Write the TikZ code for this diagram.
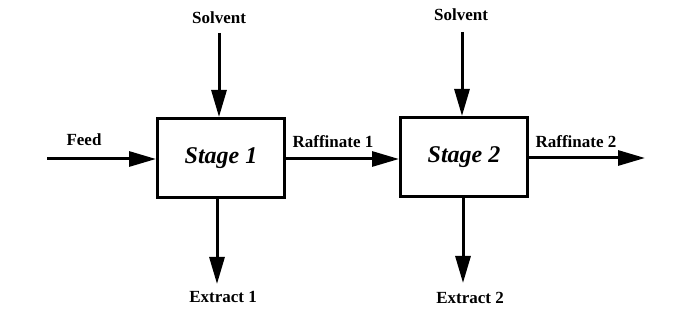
\documentclass[tikz,border=0pt]{standalone}
\usepackage{fontspec}
\setmainfont{Liberation Serif}
\usetikzlibrary{arrows.meta}
\begin{document}
\begin{tikzpicture}[x=1pt,y=-1pt,
  flow/.style={line width=3pt,-{Triangle[length=27pt,width=15pt]}},
  stagebox/.style={draw,line width=3pt,minimum width=127pt,minimum height=79pt,inner sep=0pt,font=\fontsize{24}{27}\selectfont\bfseries\itshape},
  lbl/.style={font=\fontsize{17}{20}\selectfont\bfseries,inner sep=0pt}]
\useasboundingbox[fill=white] (0,0) rectangle (685,336);
\node[stagebox] (s1) at (221,158) {Stage 1};
\node[stagebox] (s2) at (464,157) {Stage 2};
\coordinate (feed) at (47,159);
\coordinate (sol1) at (219,33);
\coordinate (sol2) at (462,32);
\coordinate (ex1) at (217,284);
\coordinate (ex2) at (463,283);
\coordinate (raf2) at (645,158);
\draw[flow] (feed) -- (s1.west |- feed);
\draw[flow] (sol1) -- (sol1 |- s1.north);
\draw[flow] (s1.south -| ex1) -- (ex1);
\draw[flow] (s1.east |- 0,159) -- (s2.west |- 0,159);
\draw[flow] (sol2) -- (sol2 |- s2.north);
\draw[flow] (s2.south -| ex2) -- (ex2);
\draw[flow] (s2.east |- raf2) -- (raf2);
\node[lbl] (lsol1) at (219,18) {Solvent};
\node[lbl] (lsol2) at (461,15) {Solvent};
\node[lbl] (lfeed) at (84,140) {Feed};
\node[lbl] (lraf1) at (333,142) {Raffinate 1};
\node[lbl] (lraf2) at (576,142) {Raffinate 2};
\node[lbl] (lex1) at (223,297) {Extract 1};
\node[lbl] (lex2) at (470,298) {Extract 2};
\end{tikzpicture}
\end{document}
